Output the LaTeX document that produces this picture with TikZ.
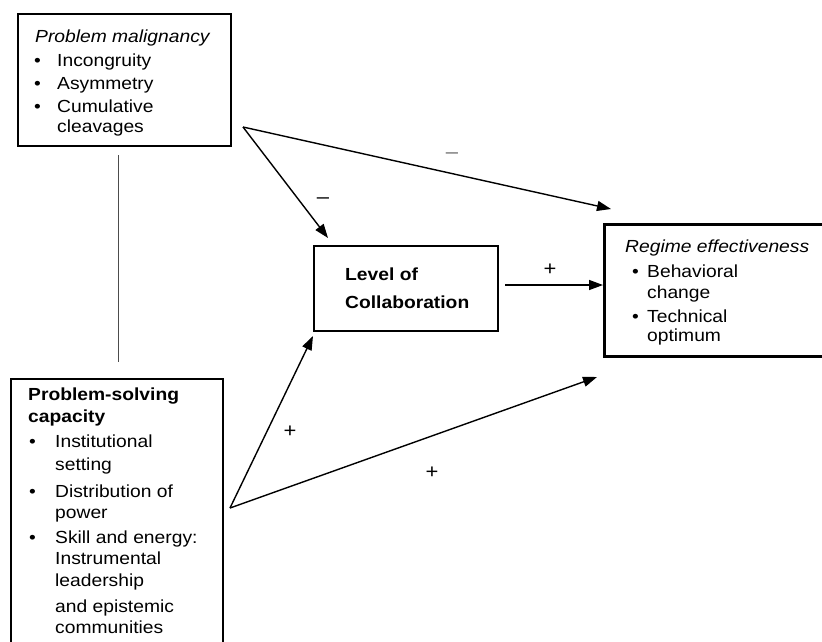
\documentclass[tikz,border=0pt]{standalone}
\usepackage{fontspec}
\setmainfont{Liberation Sans}[FakeStretch=1.1]
\usetikzlibrary{arrows.meta}
\begin{document}
\begin{tikzpicture}[x=1pt,y=-1pt,
  box/.style={draw, line width=#1, anchor=north west, inner sep=0pt},
  txt/.style={anchor=base west, inner sep=0pt, font=\fontsize{17.5}{20}\selectfont},
  sign/.style={inner sep=0pt, font=\fontsize{20}{22}\selectfont},
  arr/.style={line width=1.4pt, -{Triangle[length=14pt,width=10pt]}}]
\useasboundingbox (0,0) rectangle (822,641);
\fill[white] (0,0) rectangle (822,641);
% boxes
\node[box=2.4pt, minimum width=213pt, minimum height=132pt] (pm) at (17,13) {};
\node[box=1.6pt, minimum width=212pt, minimum height=280pt] (ps) at (10,378) {};
\node[box=2.6pt, minimum width=230pt, minimum height=132pt] (re) at (603,223) {};
\node[box=2.2pt, minimum width=184pt, minimum height=85pt] (lc) at (313,245) {};
% Problem malignancy text
\node[txt] (pm0) at (35,42) {\itshape Problem malignancy};
\node[txt] (pm1b) at (34,66) {\textbullet};
\node[txt] (pm1) at (57,66) {Incongruity};
\node[txt] (pm2b) at (34,89) {\textbullet};
\node[txt] (pm2) at (57,89) {Asymmetry};
\node[txt] (pm3b) at (34,112) {\textbullet};
\node[txt] (pm3) at (57,112) {Cumulative};
\node[txt] (pm4) at (57,132) {cleavages};
% Problem-solving text
\node[txt] (ps0) at (28,400) {\bfseries Problem-solving};
\node[txt] (ps0b) at (28,422) {\bfseries capacity};
\node[txt] (ps1b) at (29,447) {\textbullet};
\node[txt] (ps1) at (55,447) {Institutional};
\node[txt] (ps1c) at (55,470) {setting};
\node[txt] (ps2b) at (29,497) {\textbullet};
\node[txt] (ps2) at (55,497) {Distribution of};
\node[txt] (ps2c) at (55,518) {power};
\node[txt] (ps3b) at (29,543) {\textbullet};
\node[txt] (ps3) at (55,543) {Skill and energy:};
\node[txt] (ps3c) at (55,564) {Instrumental};
\node[txt] (ps3d) at (55,586) {leadership};
\node[txt] (ps3e) at (55,612) {and epistemic};
\node[txt] (ps3f) at (55,633) {communities};
% Regime text
\node[txt] (re0) at (625,252) {\itshape Regime effectiveness};
\node[txt] (re1b) at (632,277) {\textbullet};
\node[txt] (re1) at (647,277) {Behavioral};
\node[txt] (re1c) at (647,298) {change};
\node[txt] (re2b) at (632,322) {\textbullet};
\node[txt] (re2) at (647,322) {Technical};
\node[txt] (re2c) at (647,341) {optimum};
% Level of collaboration
\node[txt] (lc0) at (345,280) {\bfseries Level of};
\node[txt] (lc1) at (345,308) {\bfseries Collaboration};
% connector line
\coordinate (v1) at (118,155);
\coordinate (v2) at (118,362);
\draw[line width=1pt, black!70] (v1) -- (v2);
% arrows
\coordinate (a0) at (243,127);
\coordinate (a1) at (328,238);
\coordinate (a2) at (611,209);
\coordinate (b0) at (230,508);
\coordinate (b1) at (313,336);
\coordinate (b2) at (597,377);
\coordinate (c0) at (505,285);
\coordinate (c1) at (603,285);
\draw[arr] (a0) -- (a1);
\draw[arr] (a0) -- (a2);
\draw[arr] (b0) -- (b1);
\draw[arr] (b0) -- (b2);
\draw[arr] (c0) -- (c1);
% signs
\node[sign, text=black!55] (m1) at (452,156) {\textendash};
\node[sign] (m2) at (323,201) {\textendash};
\node[sign] (p1) at (550,270) {+};
\node[sign] (p2) at (290,432) {+};
\node[sign] (p3) at (432,473) {+};
\end{tikzpicture}
\end{document}
